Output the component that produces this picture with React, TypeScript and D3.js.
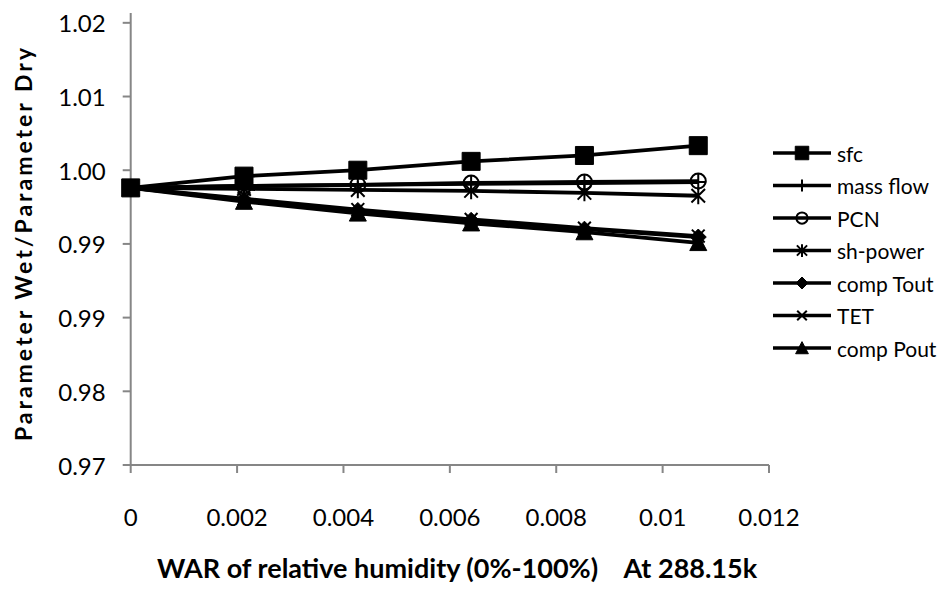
import * as d3 from 'd3';

// WAR values (kg water / kg dry air) at 0..100 % relative humidity
const war = [0, 0.00213, 0.00427, 0.0064, 0.00853, 0.01067];

const sfc = [1.0032, 1.0044, 1.005, 1.0059, 1.0065, 1.0075];
const massFlow = [1.0032, 1.0034, 1.0035, 1.0036, 1.0037, 1.0038];
const pcn = [1.0032, 1.0034, 1.0035, 1.0037, 1.0038, 1.0039];
const shPower = [1.0032, 1.0031, 1.003, 1.0029, 1.0027, 1.0024];
const compTout = [1.0032, 1.002, 1.0009, 0.9999, 0.999, 0.9982];
const tet = [1.0032, 1.0021, 1.001, 1.0, 0.9991, 0.9983];
const compPout = [1.0032, 1.0018, 1.0006, 0.9996, 0.9987, 0.9976];

const seriesNames = ['sfc', 'mass flow', 'PCN', 'sh-power', 'comp Tout', 'TET', 'comp Pout'];
const seriesMarkers = ['square', 'plus', 'circle', 'star', 'diamond', 'x', 'triangle'];
const seriesValues = [sfc, massFlow, pcn, shPower, compTout, tet, compPout];

const xTicks = [0, 0.002, 0.004, 0.006, 0.008, 0.01, 0.012];
const xTickLabels = ['0', '0.002', '0.004', '0.006', '0.008', '0.01', '0.012'];
const yTicks = [0.975, 0.9825, 0.99, 0.9975, 1.005, 1.0125, 1.02];
const yTickLabels = ['0.97', '0.98', '0.99', '0.99', '1.00', '1.01', '1.02'];

const W = 944;
const H = 598;
const FONT = 'Lato, "Open Sans", sans-serif';

// marker path, centred on 0,0; s = half size
function markerPath(kind: string, s: number): string {
  switch (kind) {
    case 'square':
      return `M${-s},${-s}H${s}V${s}H${-s}Z`;
    case 'diamond':
      return `M0,${-s}L${s},0L0,${s}L${-s},0Z`;
    case 'triangle':
      return `M0,${-s}L${s},${s * 0.9}L${-s},${s * 0.9}Z`;
    case 'plus':
      return `M${-s},0H${s}M0,${-s}V${s}`;
    case 'x':
      return `M${-s * 0.8},${-s * 0.8}L${s * 0.8},${s * 0.8}M${s * 0.8},${-s * 0.8}L${-s * 0.8},${s * 0.8}`;
    case 'star':
      return `M0,${-s}V${s}M${-s * 0.8},${-s * 0.8}L${s * 0.8},${s * 0.8}M${s * 0.8},${-s * 0.8}L${-s * 0.8},${s * 0.8}`;
    default:
      return d3.symbol(d3.symbolCircle, Math.PI * s * s)() ?? '';
  }
}

function Marker({ kind, x, y, s }: { kind: string; x: number; y: number; s: number }) {
  const filled = kind === 'square' || kind === 'diamond' || kind === 'triangle';
  return (
    <path
      d={markerPath(kind, s)}
      transform={`translate(${x},${y})`}
      fill={filled ? '#000' : 'none'}
      stroke="#000"
      strokeWidth={filled ? 1 : 2}
    />
  );
}

export default function App() {
  const x = d3.scaleLinear().domain([0, 0.012]).range([130.7, 769]);
  const y = d3.scaleLinear().domain([0.975, 1.021]).range([465, 13]);

  const line = d3
    .line<number>()
    .x((_, i) => x(war[i]))
    .y((d) => y(d));

  const markerSize: Record<string, number> = {
    square: 9,
    plus: 8,
    circle: 7.5,
    star: 8.5,
    diamond: 8,
    x: 8,
    triangle: 8.5,
  };

  const legendX = 773;
  const legendY0 = 153;
  const legendStep = 32.5;

  return (
    <svg
      width={W}
      height={H}
      style={{ position: 'absolute', left: 0, top: 0, background: '#fff' }}
      fontFamily={FONT}
    >
      {/* axes */}
      <line x1={x(0)} x2={x(0.012)} y1={y(0.975)} y2={y(0.975)} stroke="#868686" strokeWidth={2} />
      <line x1={x(0)} x2={x(0)} y1={y(0.975)} y2={y(1.021)} stroke="#868686" strokeWidth={2} />
      {xTicks.map((t, i) => (
        <g key={'xt' + i}>
          <line x1={x(t)} x2={x(t)} y1={y(0.975)} y2={y(0.975) + 8} stroke="#868686" strokeWidth={2} />
          <text x={x(t)} y={y(0.975) + 61} textAnchor="middle" fontSize={24}>
            {xTickLabels[i]}
          </text>
        </g>
      ))}
      {yTicks.map((t, i) => (
        <g key={'yt' + i}>
          <line x1={x(0) - 8} x2={x(0)} y1={y(t)} y2={y(t)} stroke="#868686" strokeWidth={2} />
          <text x={x(0) - 25} y={y(t)} textAnchor="end" dominantBaseline="central" fontSize={24}>
            {yTickLabels[i]}
          </text>
        </g>
      ))}

      {/* series */}
      {seriesValues.map((vals, si) => (
        <g key={'s' + si}>
          <path d={line(vals) ?? ''} fill="none" stroke="#000" strokeWidth={3.8} />
          {vals.map((v, i) => (
            <Marker key={i} kind={seriesMarkers[si]} x={x(war[i])} y={y(v)} s={markerSize[seriesMarkers[si]]} />
          ))}
        </g>
      ))}

      {/* legend */}
      {seriesNames.map((name, i) => {
        const ly = legendY0 + i * legendStep;
        return (
          <g key={'lg' + i}>
            <line x1={legendX} x2={legendX + 58} y1={ly} y2={ly} stroke="#000" strokeWidth={3.5} />
            <Marker kind={seriesMarkers[i]} x={legendX + 29} y={ly} s={markerSize[seriesMarkers[i]] * 0.75} />
            <text x={legendX + 64} y={ly} dominantBaseline="central" fontSize={21}>
              {name}
            </text>
          </g>
        );
      })}

      {/* axis titles */}
      <text
        transform={`translate(23,${(y(0.975) + y(1.021)) / 2 + 4}) rotate(-90)`}
        textAnchor="middle"
        dominantBaseline="central"
        fontSize={23}
        fontWeight="bold"
        letterSpacing={3}
      >
        Parameter Wet/Parameter Dry
      </text>
      <text x={457} y={567} textAnchor="middle" dominantBaseline="central" fontSize={27} fontWeight="bold" xmlSpace="preserve">
        WAR of relative humidity (0%-100%)    At 288.15k
      </text>
    </svg>
  );
}
